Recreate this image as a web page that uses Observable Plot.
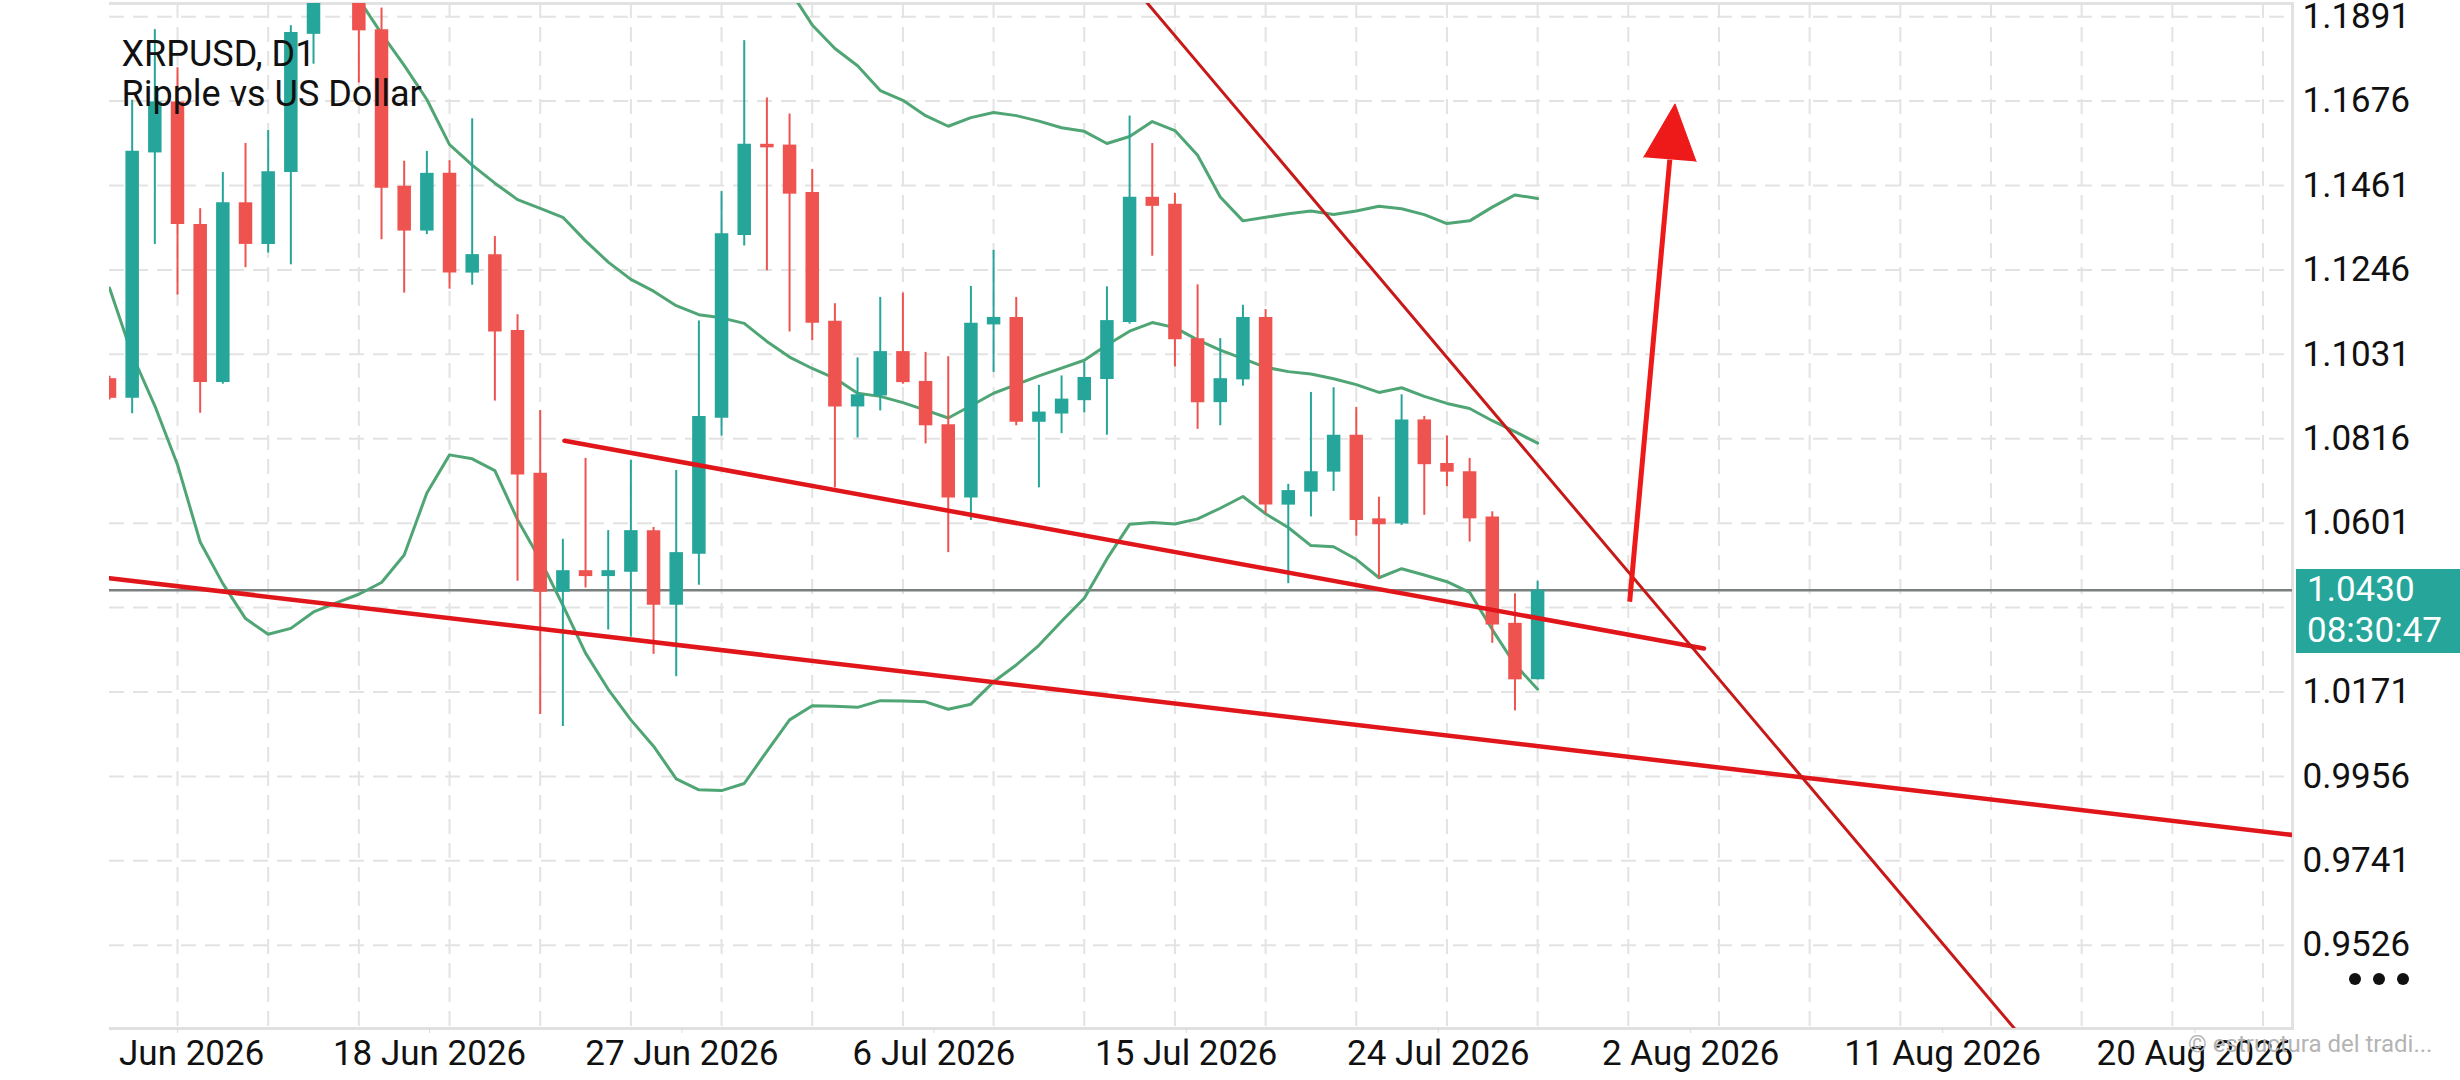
<!DOCTYPE html>
<html>
<head>
<meta charset="utf-8">
<script src="https://cdn.jsdelivr.net/npm/d3@7"></script>
<script src="https://cdn.jsdelivr.net/npm/@observablehq/plot@0.6"></script>
<style>
html,body{margin:0;padding:0;background:#fff;}
#page{position:relative;width:2460px;height:1080px;overflow:hidden;background:#fff;font-family:Roboto,sans-serif;}
#chart{position:absolute;left:109px;top:0;width:2351px;height:1080px;overflow:hidden;}
#chart svg{max-width:none;display:block;}
#pricebox{position:absolute;left:2296px;width:164px;height:84px;background:#26a69a;color:#fff;font-size:35px;line-height:41px;padding-left:11px;box-sizing:border-box;white-space:nowrap;}
#dots{position:absolute;left:2349px;top:973px;line-height:0;}
#dots span{display:inline-block;width:12px;height:12px;border-radius:50%;background:#111;margin-right:12px;}
#wm{position:absolute;left:2188px;top:1030px;font-size:24px;color:#b4b4b4;white-space:nowrap;}
</style>
</head>
<body>
<div id="page">
  <div id="chart"></div>
  <div id="pricebox"></div>
  <div id="dots"><span></span><span></span><span></span></div>
  <div id="wm">© estructura del tradi...</div>
</div>
<script>
// ---- Chart text ----
const symbolName = "XRPUSD, D1";
const description = "Ripple vs US Dollar";
const countdown = "08:30:47";

// ---- Daily candles (bar index 0..63) ----
const opens = [
  1.0969,1.0919,1.1544,1.1674,1.1362,1.0959,1.1417,1.1311,
  1.1494,1.1846,1.1980,1.1985,1.1858,1.1459,1.1345,1.1492,
  1.1238,1.1285,1.1092,1.0728,1.0425,1.0480,1.0465,1.0476,
  1.0582,1.0392,1.0522,1.0868,1.1334,1.1566,1.1564,1.1443,
  1.1115,1.0897,1.0925,1.1038,1.0962,1.0852,1.0665,1.1106,
  1.1125,1.0858,1.0879,1.0913,1.0967,1.1112,1.1431,1.1413,
  1.1071,1.0908,1.0966,1.1125,1.0647,1.0680,1.0731,1.0825,
  1.0612,1.0599,1.0864,1.0753,1.0732,1.0617,1.0346,1.0202];
const highs = [
  1.0975,1.1678,1.1858,1.1761,1.1402,1.1494,1.1568,1.1601,
  1.1868,1.2010,1.2120,1.2040,1.1913,1.1523,1.1548,1.1524,
  1.1631,1.1331,1.1132,1.0888,1.0560,1.0766,1.0582,1.0761,
  1.0590,1.0735,1.1116,1.1446,1.1830,1.1684,1.1643,1.1502,
  1.1160,1.1022,1.1176,1.1187,1.1036,1.1025,1.1204,1.1296,
  1.1176,1.0952,1.0976,1.1011,1.1203,1.1638,1.1568,1.1441,
  1.1208,1.1071,1.1156,1.1145,1.0700,1.0934,1.0946,1.0896,
  1.0667,1.0928,1.0873,1.0823,1.0766,1.0630,1.0421,1.0453];
const lows = [
  1.0915,1.0880,1.1311,1.1182,1.0881,1.0955,1.1252,1.1289,
  1.1259,1.1770,1.1940,1.1722,1.1323,1.1187,1.1336,1.1197,
  1.1207,1.0912,1.0453,1.0114,1.0083,1.0436,1.0329,1.0311,
  1.0267,1.0210,1.0443,1.0823,1.1307,1.1244,1.1088,1.1066,
  1.0691,1.0818,1.0887,1.0955,1.0803,1.0526,1.0608,1.0985,
  1.0849,1.0691,1.0829,1.0882,1.0825,1.1108,1.1281,1.0999,
  1.0840,1.0849,1.0950,1.0625,1.0447,1.0617,1.0682,1.0568,
  1.0460,1.0595,1.0621,1.0694,1.0553,1.0295,1.0123,1.0202];
const closes = [
  1.0919,1.1548,1.1674,1.1362,1.0959,1.1417,1.1311,1.1496,
  1.1851,1.1975,1.2060,1.1855,1.1454,1.1345,1.1492,1.1238,
  1.1285,1.1088,1.0724,1.0425,1.0480,1.0465,1.0480,1.0582,
  1.0392,1.0526,1.0873,1.1338,1.1566,1.1557,1.1439,1.1110,
  1.0897,1.0928,1.1038,1.0959,1.0849,1.0665,1.1110,1.1125,
  1.0858,1.0884,1.0917,1.0972,1.1117,1.1431,1.1408,1.1068,
  1.0908,1.0969,1.1125,1.0647,1.0684,1.0732,1.0825,1.0608,
  1.0597,1.0864,1.0750,1.0731,1.0612,1.0342,1.0202,1.0430];

// ---- Bollinger bands (null = above the visible range) ----
const upperBand = [
  null,null,null,null,null,null,null,null,
  null,null,null,null,null,null,null,null,
  null,null,null,null,null,null,null,null,
  null,null,null,null,null,null,1.1959,1.1870,
  1.1810,1.1766,1.1703,1.1678,1.1639,1.1612,1.1634,1.1647,
  1.1639,1.1625,1.1608,1.1599,1.1568,1.1586,1.1624,1.1601,
  1.1538,1.1432,1.1371,1.1380,1.1389,1.1396,1.1387,1.1396,
  1.1408,1.1402,1.1387,1.1364,1.1371,1.1406,1.1437,1.1428];
const middleBand = [
  null,null,null,null,null,null,null,null,
  null,null,1.2015,1.1935,1.1848,1.1767,1.1680,1.1565,
  1.1513,1.1467,1.1425,1.1403,1.1380,1.1320,1.1266,1.1222,
  1.1192,1.1155,1.1132,1.1124,1.1110,1.1064,1.1024,1.0995,
  1.0970,1.0932,1.0924,1.0908,1.0889,1.0869,1.0900,1.0932,
  1.0954,1.0976,1.0996,1.1016,1.1055,1.1090,1.1112,1.1099,
  1.1068,1.1042,1.1020,1.0998,1.0987,1.0981,1.0969,1.0954,
  1.0934,1.0946,1.0924,1.0906,1.0893,1.0862,1.0834,1.0805];
const lowerBand = [
  1.1200,1.1030,1.0900,1.0750,1.0553,1.0447,1.0358,1.0318,
  1.0333,1.0375,1.0398,1.0420,1.0450,1.0520,1.0678,1.0775,
  1.0765,1.0735,1.0610,1.0508,1.0392,1.0270,1.0178,1.0100,
  1.0033,0.9950,0.9922,0.9920,0.9938,1.0020,1.0100,1.0136,
  1.0135,1.0132,1.0149,1.0148,1.0146,1.0127,1.0140,1.0197,
  1.0240,1.0290,1.0351,1.0410,1.0510,1.0598,1.0603,1.0599,
  1.0612,1.0639,1.0669,1.0625,1.0590,1.0544,1.0541,1.0509,
  1.0462,1.0485,1.0469,1.0452,1.0425,1.0330,1.0241,1.0178];

// ---- Axes ----
const priceTicks = [1.1891,1.1676,1.1461,1.1246,1.1031,1.0816,1.0601,1.0386,1.0171,0.9956,0.9741,0.9526];
const dateTickBars = [3.0,14.12,25.25,36.37,47.5,58.62,69.75,80.87,92.0];
const dateTickLabels = ["9 Jun 2026","18 Jun 2026","27 Jun 2026","6 Jul 2026","15 Jul 2026","24 Jul 2026","2 Aug 2026","11 Aug 2026","20 Aug 2026"];
const barDomain = [0, 96.3];
const priceDomain = [0.9314, 1.19246];

// ---- Drawn trend lines (bar index, price) ----
const channelLower = [{i:0, p:1.0461}, {i:96.3, p:0.9807}];
const channelUpper = [{i:20.07, p:1.0811}, {i:70.34, p:1.0282}];
const steepLine    = [{i:45.0, p:1.1979}, {i:85.0, p:0.9248}];
const arrowShaft   = [{i1:67.06, p1:1.0401, i2:68.83, p2:1.1527}];
const arrowHead    = [{i:67.68, p:1.1533}, {i:69.06, p:1.1669}, {i:69.99, p:1.1522}];

// ---- Build ----
const TEAL = "#26a69a", RED = "#ef5350", BAND = "#4fa574", GRID = "#e3e3e3";
const candles = closes.map((c, i) => ({i, open: opens[i], high: highs[i], low: lows[i], close: c}));
const upC = candles.filter(d => d.close >= d.open);
const dnC = candles.filter(d => d.close < d.open);
const series = arr => arr.map((v, i) => ({i, v})).filter(d => d.v != null);
const lastClose = closes[closes.length - 1];
// the label under the live price box is hidden, as on the terminal
const labelTicks = priceTicks.filter(t => Math.abs(t - lastClose) > 0.008);

const chart = Plot.plot({
  width: 2351, height: 1080,
  marginLeft: 0, marginRight: 168, marginTop: 3, marginBottom: 52,
  style: {fontFamily: "Roboto", fontSize: "35px", background: "#fff", color: "#111", overflow: "hidden"},
  x: {type: "linear", domain: barDomain, label: null},
  y: {domain: priceDomain, label: null},
  marks: [
    Plot.ruleY(priceTicks, {stroke: GRID, strokeWidth: 2, strokeDasharray: "15,9"}),
    Plot.ruleX(d3.range(3, 96.3, 4), {stroke: GRID, strokeWidth: 2, strokeDasharray: "15,9"}),
    Plot.frame({anchor: "top", stroke: "#e2e2e2", strokeWidth: 3}),
    Plot.frame({anchor: "right", stroke: "#e2e2e2", strokeWidth: 3}),
    Plot.frame({anchor: "bottom", stroke: "#e0e0e0", strokeWidth: 3}),
    Plot.axisX(dateTickBars, {anchor: "bottom", tickSize: 5, tickPadding: 7, stroke: "#dcdcdc",
      fill: "#111", fontSize: 35, tickFormat: d => dateTickLabels[dateTickBars.indexOf(d)], label: null}),
    Plot.axisY(labelTicks, {anchor: "right", tickSize: 0, tickPadding: 10, fill: "#111", fontSize: 35,
      tickFormat: d => d.toFixed(4), label: null}),
    // price line
    Plot.ruleY([lastClose], {stroke: "#7a807e", strokeWidth: 2.5}),
    // bands
    Plot.line(series(upperBand), {x: "i", y: "v", stroke: BAND, strokeWidth: 3, clip: true}),
    Plot.line(series(middleBand), {x: "i", y: "v", stroke: BAND, strokeWidth: 3, clip: true}),
    Plot.line(series(lowerBand), {x: "i", y: "v", stroke: BAND, strokeWidth: 3, clip: true}),
    // candles
    Plot.ruleX(upC, {x: "i", y1: "low", y2: "high", stroke: TEAL, strokeWidth: 2, clip: true}),
    Plot.ruleX(dnC, {x: "i", y1: "low", y2: "high", stroke: RED, strokeWidth: 2, clip: true}),
    Plot.ruleX(upC, {x: "i", y1: "open", y2: "close", stroke: TEAL, strokeWidth: 13.5, clip: true}),
    Plot.ruleX(dnC, {x: "i", y1: "open", y2: "close", stroke: RED, strokeWidth: 13.5, clip: true}),
    // trend lines
    Plot.line(channelLower, {x: "i", y: "p", stroke: "#e0161b", strokeWidth: 4.5, clip: true}),
    Plot.line(channelUpper, {x: "i", y: "p", stroke: "#e0161b", strokeWidth: 4.5, clip: true}),
    Plot.line(steepLine, {x: "i", y: "p", stroke: "#c81919", strokeWidth: 3, clip: true}),
    // arrow
    Plot.link(arrowShaft, {x1: "i1", y1: "p1", x2: "i2", y2: "p2", stroke: "#ee1a1a", strokeWidth: 5}),
    Plot.line(arrowHead, {x: "i", y: "p", fill: "#ee1a1a", stroke: "#ee1a1a", strokeWidth: 1}),
    // title
    Plot.text([`${symbolName}\n${description}`], {frameAnchor: "top-left", dx: 12, dy: 34, lineAnchor: "top",
      textAnchor: "start", fontSize: 36, lineHeight: 1.11, fill: "#111"})
  ]
});
document.getElementById("chart").appendChild(chart);

const py = chart.scale("y").apply(lastClose);
const box = document.getElementById("pricebox");
box.style.top = (py - 20.5) + "px";
box.innerHTML = `${lastClose.toFixed(4)}<br>${countdown}`;
</script>
</body>
</html>
